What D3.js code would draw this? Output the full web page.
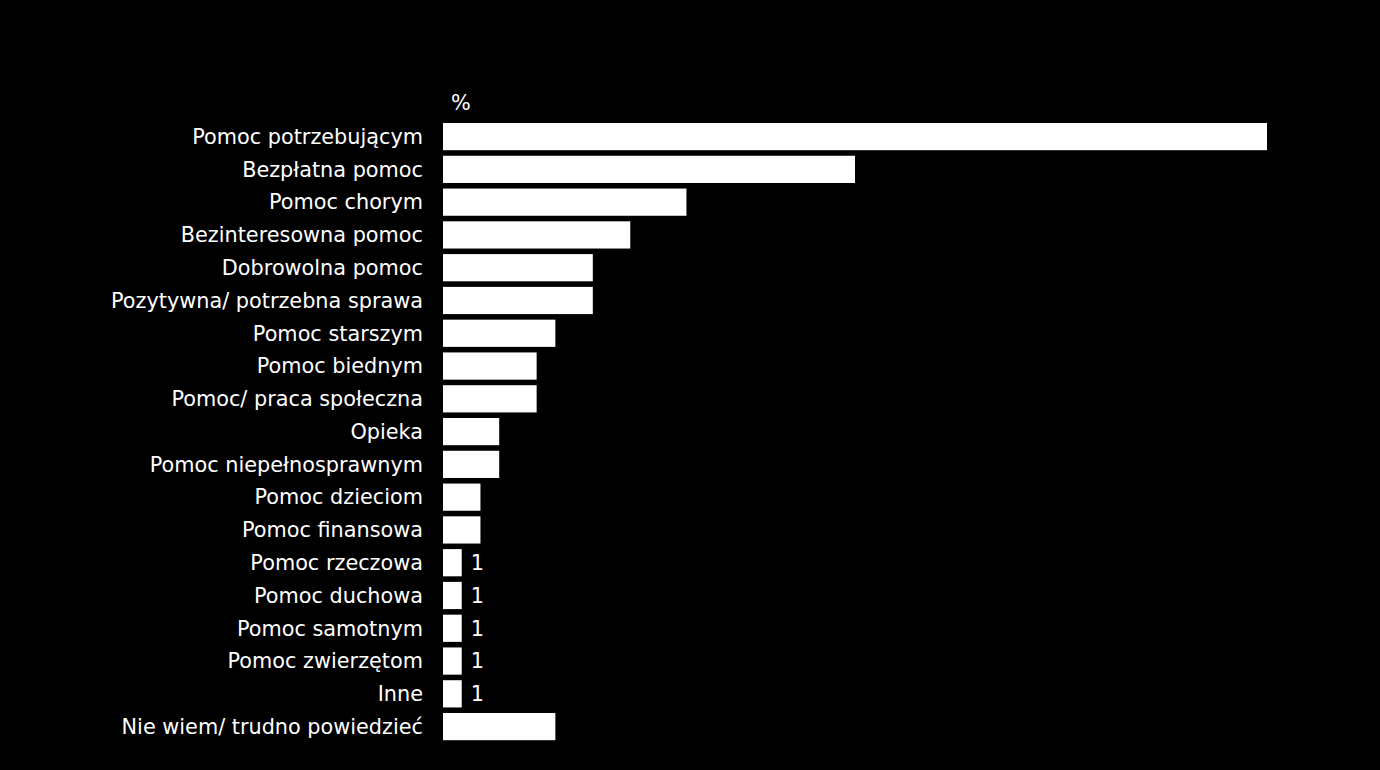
<!DOCTYPE html>
<html><head><meta charset="utf-8">
<script src="https://cdn.jsdelivr.net/npm/d3@7"></script>
<style>html,body{margin:0;padding:0;background:#000;}svg{display:block;}</style>
</head><body>
<script>
const categories = ["Pomoc potrzebującym","Bezpłatna pomoc","Pomoc chorym","Bezinteresowna pomoc","Dobrowolna pomoc","Pozytywna/ potrzebna sprawa","Pomoc starszym","Pomoc biednym","Pomoc/ praca społeczna","Opieka","Pomoc niepełnosprawnym","Pomoc dzieciom","Pomoc finansowa","Pomoc rzeczowa","Pomoc duchowa","Pomoc samotnym","Pomoc zwierzętom","Inne","Nie wiem/ trudno powiedzieć"];
const values = [44,22,13,10,8,8,6,5,5,3,3,2,2,1,1,1,1,1,6];
const unitLabel = "%";

const W = 1380, H = 770;
const svg = d3.select("body").append("svg").attr("width", W).attr("height", H);
svg.append("rect").attr("width", W).attr("height", H).attr("fill", "#000");

const x = d3.scaleLinear().domain([0, 44]).range([443, 1267]);
const y = d3.scaleBand().domain(categories).range([120.2, 743]).paddingInner(0.17).paddingOuter(0.085);
const font = "'DejaVu Sans', Verdana, sans-serif";

svg.append("g").selectAll("rect").data(values).join("rect")
  .attr("x", x(0)).attr("y", (d,i) => y(categories[i]))
  .attr("width", d => x(d) - x(0)).attr("height", y.bandwidth())
  .attr("fill", "#fff");

svg.append("g").selectAll("text").data(categories).join("text")
  .attr("x", 423).attr("y", d => y(d) + y.bandwidth()/2)
  .attr("dy", "0.35em").attr("text-anchor", "end")
  .attr("fill", "#fff").style("font-family", font).style("font-size", "20.8px")
  .text(d => d);

svg.append("g").selectAll("text").data(values.map((v,i)=>({v, c: categories[i]})).filter(d => d.v <= 1)).join("text")
  .attr("x", d => x(d.v) + 9).attr("y", d => y(d.c) + y.bandwidth()/2)
  .attr("dy", "0.35em").attr("fill", "#fff")
  .style("font-family", font).style("font-size", "20.8px")
  .text(d => d.v);

svg.append("text").attr("x", 451).attr("y", 110).attr("fill", "#fff")
  .style("font-family", font).style("font-size", "20.8px").text(unitLabel);
</script>
</body></html>
